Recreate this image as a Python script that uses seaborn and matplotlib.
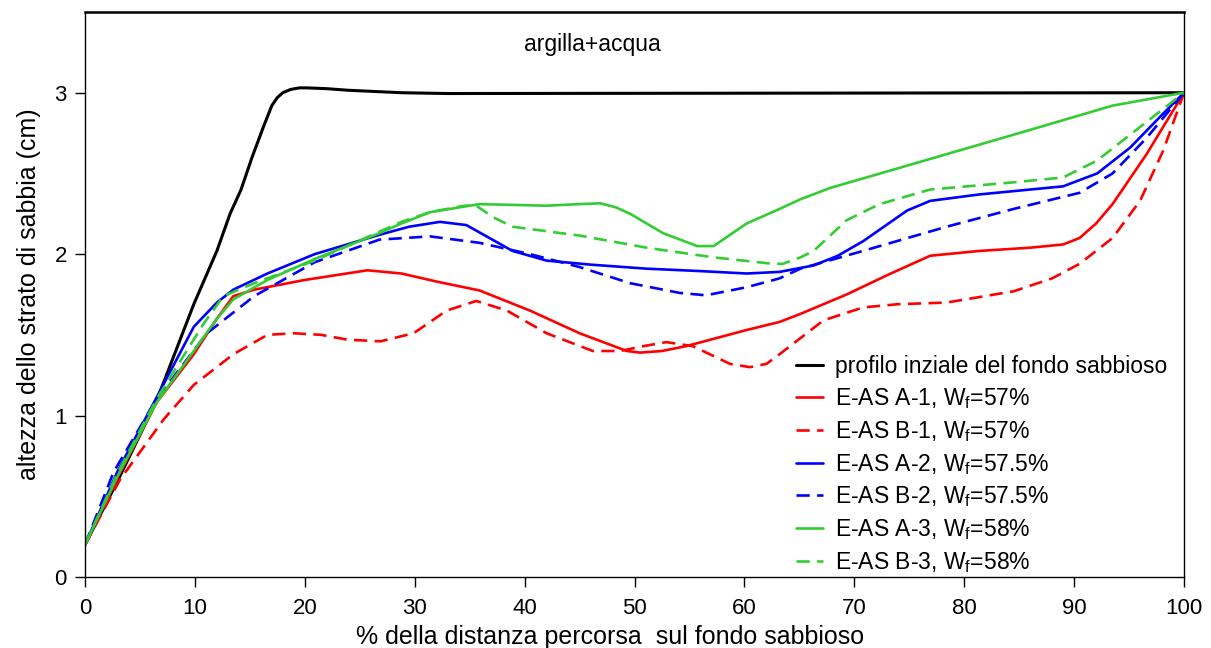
import numpy as np
import pandas as pd
import matplotlib
matplotlib.use("Agg")
import matplotlib.pyplot as plt
import seaborn as sns

# Profilo iniziale del fondo sabbioso
x_init = [0, 3, 6.5, 9.9, 12, 13.2, 14.2, 15.2, 16.3, 17.0, 17.5, 18.0, 18.7, 19.5, 20.2, 22, 24, 28.8, 33, 100]
h_init = [0.2, 0.6, 1.09, 1.69, 2.02, 2.25, 2.40, 2.60, 2.80, 2.92, 2.97, 3.0, 3.02, 3.03, 3.03, 3.025, 3.015, 3.0, 2.995, 3.0]

# E-AS A-1
x_a1 = [0, 3, 6.5, 9.9, 12, 13.5, 15.4, 20, 25.7, 28.8, 32, 35.9, 40.5, 45, 49.3, 50.5, 52.5, 54.7, 60.2, 63.2, 65.1,
        69.3, 73, 76.9, 81.4, 86, 89, 90.5, 92, 93.5, 96.6, 100]
h_a1 = [0.2, 0.62, 1.08, 1.38, 1.6, 1.74, 1.78, 1.84, 1.90, 1.88, 1.83, 1.775, 1.65, 1.51, 1.40, 1.39, 1.40, 1.43, 1.53, 1.58, 1.63,
        1.75, 1.87, 1.99, 2.02, 2.04, 2.06, 2.1, 2.19, 2.31, 2.62, 3.0]

# E-AS B-1
x_b1 = [0, 3.2, 7.2, 9.9, 13.5, 16.6, 19, 21.5, 23.9, 26.9, 29.9, 32.9, 35.6, 38.4, 42, 46.2, 48.7, 50.8, 52.9, 55.3,
        58.7, 60.5, 62, 63.2, 65.1, 67.2, 70.8, 74, 78.4, 84.5, 88, 90.5, 93.5, 96, 98.1, 100]
h_b1 = [0.2, 0.605, 0.98, 1.19, 1.38, 1.50, 1.51, 1.50, 1.47, 1.46, 1.51, 1.65, 1.71, 1.65, 1.51, 1.40, 1.40, 1.43, 1.455, 1.43,
        1.32, 1.30, 1.32, 1.38, 1.48, 1.59, 1.67, 1.69, 1.70, 1.77, 1.85, 1.94, 2.10, 2.33, 2.64, 3.0]

# E-AS A-2
x_a2 = [0, 3, 6.5, 9.9, 12, 13.5, 16.6, 20.9, 26.8, 29.5, 32.3, 34.7, 36.8, 38.9, 42, 46, 51.1, 56, 60.2, 63.2, 66.3,
        68.5, 70.8, 74.8, 76.9, 81.4, 89, 92.1, 95.1, 98.1, 100]
h_a2 = [0.2, 0.66, 1.11, 1.55, 1.70, 1.78, 1.88, 2.0, 2.12, 2.17, 2.20, 2.18, 2.10, 2.02, 1.96, 1.935, 1.91, 1.895, 1.88, 1.89, 1.93,
        1.99, 2.08, 2.27, 2.33, 2.37, 2.42, 2.50, 2.66, 2.87, 3.0]

# E-AS B-2
x_b2 = [0, 2.6, 6.5, 11.1, 15.4, 20.9, 26.8, 31.4, 35.9, 40.5, 45, 49.6, 54.1, 56.5, 60.2, 63.2, 65.1, 70.8, 78.4,
        84.5, 90.5, 93.5, 96.6, 100]
h_b2 = [0.2, 0.65, 1.10, 1.51, 1.74, 1.95, 2.09, 2.11, 2.07, 2.0, 1.92, 1.82, 1.76, 1.745, 1.795, 1.85, 1.91, 2.02, 2.17,
        2.28, 2.38, 2.50, 2.72, 3.0]

# E-AS A-3
x_a3 = [0, 3, 6.5, 9.9, 12, 13.5, 16.6, 20.9, 26.8, 28.8, 31.4, 35.9, 42, 45, 46.9, 48.3, 49.6, 52.6, 55.7, 57.2, 60.2, 63.2,
        65.1, 67.8, 75.4, 84.5, 93.5, 100]
h_a3 = [0.2, 0.63, 1.08, 1.40, 1.60, 1.72, 1.84, 1.97, 2.13, 2.19, 2.26, 2.31, 2.30, 2.31, 2.315, 2.29, 2.25, 2.13, 2.05, 2.05, 2.19, 2.28,
        2.34, 2.41, 2.56, 2.74, 2.92, 3.0]

# E-AS B-3
x_b3 = [0, 3, 6.5, 10.8, 12.6, 15.4, 20.9, 28.8, 31.4, 34.5, 35.6, 37.1, 38.9, 45, 51.1, 57.2, 62.6, 63.5, 65.1,
        66.3, 69.3, 72.3, 76.9, 84.5, 89, 92.1, 95.1, 100]
h_b3 = [0.2, 0.65, 1.10, 1.57, 1.74, 1.82, 1.96, 2.20, 2.26, 2.30, 2.30, 2.23, 2.17, 2.115, 2.04, 1.98, 1.94, 1.94, 1.98,
        2.02, 2.21, 2.31, 2.40, 2.445, 2.475, 2.58, 2.74, 3.0]

labels = [
    "profilo inziale del fondo sabbioso",
    "E-AS A-1, W$_\\mathregular{f}$=57%",
    "E-AS B-1, W$_\\mathregular{f}$=57%",
    "E-AS A-2, W$_\\mathregular{f}$=57.5%",
    "E-AS B-2, W$_\\mathregular{f}$=57.5%",
    "E-AS A-3, W$_\\mathregular{f}$=58%",
    "E-AS B-3, W$_\\mathregular{f}$=58%",
]
series_x = [x_init, x_a1, x_b1, x_a2, x_b2, x_a3, x_b3]
series_h = [h_init, h_a1, h_b1, h_a2, h_b2, h_a3, h_b3]
colors = ["#000000", "#ff0000", "#ff0000", "#0000ff", "#0000ff", "#33cc33", "#33cc33"]
dashed = [False, False, True, False, True, False, True]

x_ticks = list(range(0, 101, 10))
y_ticks = [0, 1, 2, 3]

sns.set_theme(style="ticks")
plt.rcParams["font.family"] = ["Liberation Sans", "DejaVu Sans"]
plt.rcParams["mathtext.fontset"] = "custom"
plt.rcParams["mathtext.rm"] = "Liberation Sans"
plt.rcParams["text.color"] = "black"
plt.rcParams["axes.labelcolor"] = "black"

fig = plt.figure(figsize=(12.11, 6.48), dpi=100)
ax = fig.add_axes([85 / 1211, 71 / 648, (1184 - 85) / 1211, (577 - 12) / 648])

for xs, hs, lab, col, dsh in zip(series_x, series_h, labels, colors, dashed):
    df = pd.DataFrame({"x": xs, "h": hs})
    sns.lineplot(data=df, x="x", y="h", ax=ax, color=col, sort=False,
                 linewidth=2.2 if col == "#000000" else 1.9, label=lab)
    if dsh:
        ax.lines[-1].set_dashes((5, 2.8))

ax.set_xlim(0, 100)
ax.set_ylim(0, 3.5)
ax.set_xticks(x_ticks)
ax.set_yticks(y_ticks)
ax.tick_params(axis="both", direction="out", length=7, width=1.0, labelsize=16, colors="black")
ax.tick_params(axis="x", pad=8)
ax.tick_params(axis="y", pad=6)
for s in ax.spines.values():
    s.set_color("black")
    s.set_linewidth(1.0)
ax.spines["top"].set_linewidth(1.8)

ax.set_xlabel("% della distanza percorsa  sul fondo sabbioso", fontsize=18, color="black")
ax.xaxis.set_label_coords(0.478, -0.085)
ax.set_ylabel("altezza dello strato di sabbia (cm)", fontsize=18, labelpad=10, color="black")
ax.text(0.462, 0.9416, "argilla+acqua", transform=ax.transAxes, fontsize=16.5, ha="center", va="center",
        color="black")

leg = ax.legend(loc="lower right", bbox_to_anchor=(0.993, -0.012), frameon=False, fontsize=16.5,
                handlelength=1.2, handletextpad=0.5, labelspacing=0.34, borderaxespad=0, labelcolor="black")

fig.savefig("out.png", dpi=100, facecolor="white")
